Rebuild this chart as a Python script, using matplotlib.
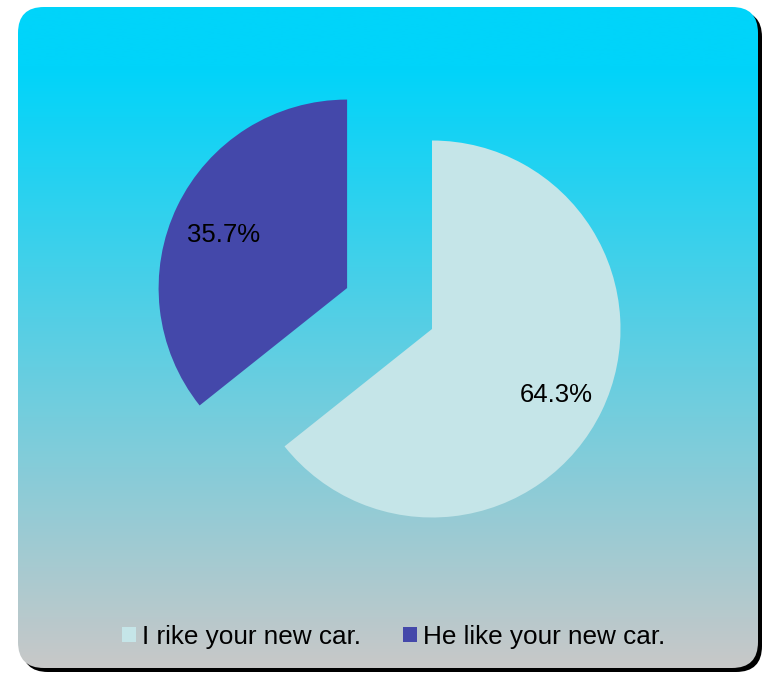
import numpy as np
import matplotlib
matplotlib.use("Agg")
import matplotlib.pyplot as plt
from matplotlib.patches import FancyBboxPatch, Patch
from matplotlib.transforms import ScaledTranslation

plt.rcParams['font.family'] = ['Liberation Sans', 'DejaVu Sans']

labels = ["I rike your new car.", "He like your new car."]
values = [64.3, 35.7]
colors = ["#C5E5E8", "#4448AA"]
explode = [0.0, 0.5]

W, H = 763, 673
fig = plt.figure(figsize=(W / 100, H / 100), dpi=100)
fig.patch.set_facecolor("white")

# background card
bg = fig.add_axes([0, 0, 1, 1])
bg.set_xlim(0, W)
bg.set_ylim(H, 0)
bg.axis("off")

x0, y0, x1, y1 = 18, 7, 758, 668
shadow = FancyBboxPatch((x0 + 4, y0 + 4), x1 - x0, y1 - y0,
                        boxstyle="round,pad=0,rounding_size=26",
                        facecolor="black", edgecolor="none")
bg.add_patch(shadow)
card = FancyBboxPatch((x0, y0), x1 - x0, y1 - y0,
                      boxstyle="round,pad=0,rounding_size=26",
                      facecolor="none", edgecolor="none")
bg.add_patch(card)

n = 400
t = np.linspace(0, 1, n)
top = np.array([0, 212, 250]) / 255
bot = np.array([200, 200, 200]) / 255
start = 0.09
f = np.clip((t - start) / (1 - start), 0, 1)
grad = top[None, :] * (1 - f[:, None]) + bot[None, :] * f[:, None]
img = bg.imshow(grad[:, None, :], extent=(x0, x1, y1, y0), aspect="auto",
                interpolation="bilinear", zorder=1)
img.set_clip_path(card)
bg.set_xlim(0, W)
bg.set_ylim(H, 0)

# pie
r_px = 188.5
cx, cy = 432, 329
half = 1.8
size = 2 * half * r_px
ax = fig.add_axes([(cx - half * r_px) / W, (H - cy - half * r_px) / H, size / W, size / H])
wedges, texts, autotexts = ax.pie(values, colors=colors, explode=explode, startangle=90,
                                  counterclock=False, autopct="%1.1f%%", pctdistance=0.73,
                                  textprops=dict(fontsize=18.5, color="black"),
                                  wedgeprops=dict(linewidth=0))
shift = ScaledTranslation(0, -6.5 / 100, fig.dpi_scale_trans)
for at in autotexts:
    at.set_transform(at.get_transform() + shift)
ax.set_xlim(-half, half)
ax.set_ylim(-half, half)
ax.set_aspect("equal")
ax.axis("off")

handles = [Patch(facecolor=c, edgecolor="none") for c in colors]
fig.legend(handles, labels, loc="center", bbox_to_anchor=(393.5 / W, (H - 637) / H),
           ncol=2, frameon=False, fontsize=18.8, handlelength=0.56, handleheight=0.52,
           handletextpad=0.22, columnspacing=1.6, borderpad=0)

fig.savefig("out.png", dpi=100)
